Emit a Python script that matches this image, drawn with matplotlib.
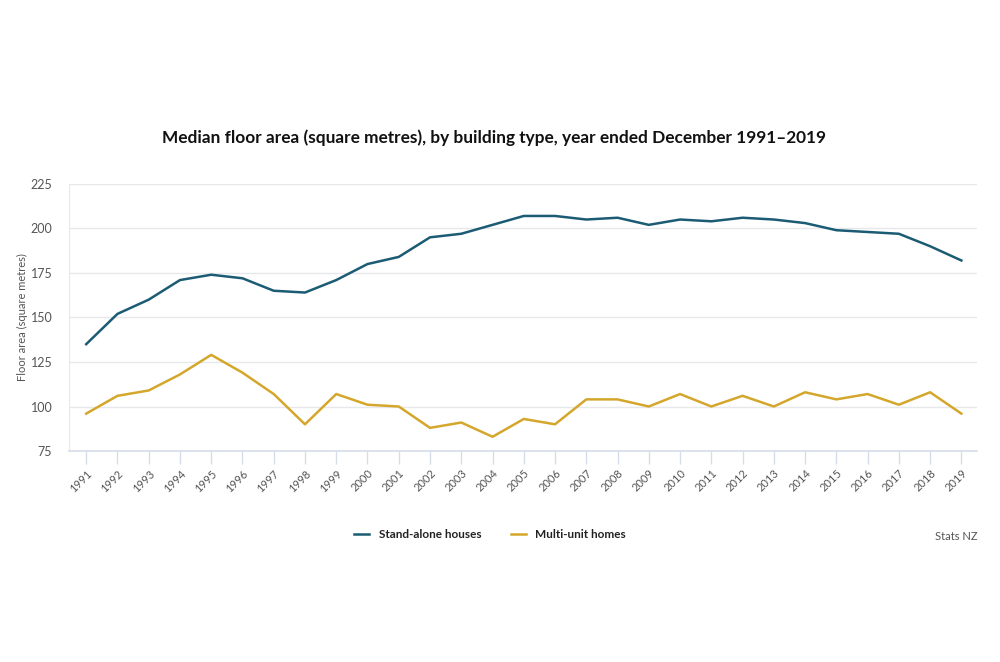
import matplotlib
matplotlib.use("Agg")
import matplotlib.pyplot as plt

years = list(range(1991, 2020))
standalone = [135, 152, 160, 171, 174, 172, 165, 164, 171, 180, 184, 195, 197, 202, 207,
              207, 205, 206, 202, 205, 204, 206, 205, 203, 199, 198, 197, 190, 182]
multiunit = [96, 106, 109, 118, 129, 119, 107, 90, 107, 101, 100, 88, 91, 83, 93,
             90, 104, 104, 100, 107, 100, 106, 100, 108, 104, 107, 101, 108, 96]
yticks = [75, 100, 125, 150, 175, 200, 225]

TEAL = "#1b5c74"
GOLD = "#d4a72c"
GRID = "#e6e8ec"
AXC = "#d5dde8"
TXT = "#555555"

plt.rcParams["font.family"] = ["Lato", "DejaVu Sans"]

fig = plt.figure(figsize=(10, 6.62), dpi=100)
ax = fig.add_axes([0.069, 0.3187, 0.908, 0.4035])

ax.plot(years, standalone, color=TEAL, lw=1.8, label="Stand-alone houses")
ax.plot(years, multiunit, color=GOLD, lw=1.8, label="Multi-unit homes")

ax.set_xlim(1990.45, 2019.5)
ax.set_ylim(75, 225)
ax.set_yticks(yticks)
ax.set_xticks(years)
ax.set_xticklabels([str(y) for y in years], rotation=45, ha="right", va="top",
                   rotation_mode="anchor", fontsize=8, color=TXT)
ax.tick_params(axis="x", length=9, width=1, color=AXC, pad=3)
ax.tick_params(axis="y", length=0, labelsize=9, labelcolor=TXT, pad=12)
ax.grid(axis="y", color=GRID, lw=1)
ax.set_axisbelow(True)
for s in ["top", "right"]:
    ax.spines[s].set_visible(False)
ax.spines["left"].set_color(GRID)
ax.spines["bottom"].set_color(AXC)
ax.spines["bottom"].set_linewidth(1.2)

ax.set_ylabel("Floor area (square metres)", fontsize=8, color=TXT, labelpad=2)

fig.text(0.494, 1 - 138 / 662, "Median floor area (square metres), by building type, year ended December 1991\u20132019",
         ha="center", va="center", fontsize=12.4, fontweight="bold", color="#111111")

leg = fig.legend(loc="center", bbox_to_anchor=(0.49, 1 - 535 / 662), ncol=2, frameon=False,
                 handlelength=1.3, columnspacing=2.5, prop={"size": 8.5, "weight": "bold"})
for t in leg.get_texts():
    t.set_color("#222222")

fig.text(0.978, 1 - 537 / 662, "Stats NZ", ha="right", va="center", fontsize=8, color=TXT)

fig.savefig("out.png", dpi=100, facecolor="white")
